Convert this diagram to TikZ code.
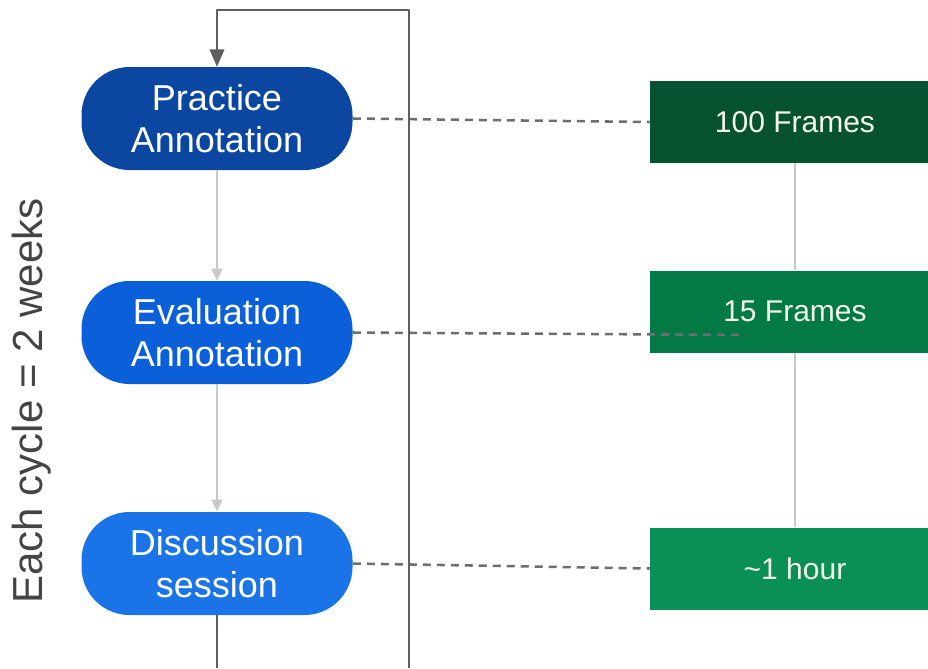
\documentclass[tikz,border=0pt]{standalone}
\usepackage{fontspec}
\setmainfont{Liberation Sans}
\usetikzlibrary{arrows.meta}
\definecolor{pillA}{HTML}{0B47A1}
\definecolor{pillB}{HTML}{0B60DA}
\definecolor{pillC}{HTML}{1A74E8}
\definecolor{grnA}{HTML}{08532F}
\definecolor{grnB}{HTML}{037A46}
\definecolor{grnC}{HTML}{0A8F56}
\definecolor{grntxt}{HTML}{F4F6EA}
\definecolor{loopgray}{HTML}{5F5F5F}
\definecolor{dashgray}{HTML}{6E6E6E}
\definecolor{lightgray}{HTML}{C9C9C9}
\definecolor{labelgray}{HTML}{444444}
\begin{document}
\begin{tikzpicture}[x=0.75pt,y=-0.75pt,
  pill/.style={rectangle, rounded corners=36pt, minimum width=203.25pt, minimum height=77.25pt,
    text=white, align=center, inner sep=0pt,
    font=\fontsize{27pt}{32pt}\selectfont},
  gbox/.style={rectangle, minimum width=217.5pt, minimum height=61.5pt, inner sep=0pt,
    text=grntxt, font=\fontsize{22.5pt}{27pt}\selectfont},
  flow/.style={draw=lightgray, line width=1.6pt, -{Triangle[length=9pt,width=8pt]}},
  loopline/.style={draw=loopgray, line width=1.5pt},
  dashline/.style={draw=dashgray, line width=1.9pt, dash pattern=on 6pt off 4.5pt},
  vline/.style={draw=lightgray, line width=1.6pt}]
\useasboundingbox (0,0) rectangle (928,668);
\clip (0,0) rectangle (928,668);

% pills
\node[pill, fill=pillA] (p1) at (217,118.5) {Practice\\Annotation};
\node[pill, fill=pillB] (p2) at (217,332.5) {Evaluation\\Annotation};
\node[pill, fill=pillC] (p3) at (217,563.5) {Discussion\\session};

% green boxes
\node[gbox, fill=grnA] (g1) at (795,122) {100 Frames};
\node[gbox, fill=grnB] (g2) at (795,311.5) {15 Frames};
\node[gbox, fill=grnC] (g3) at (795,568.5) {\char"007E{}1 hour};

% vertical connectors between green boxes
\draw[vline] (g1.south) -- (g2.north);
\draw[vline] (g2.south) -- (g3.north);

% flow arrows
\draw[flow] (p1.south) -- (p2.north);
\draw[flow] (p2.south) -- (p3.north);

% dashed links
\coordinate (d2) at (745,335);
\draw[dashline] (p1.east) -- (g1.west);
\draw[dashline] (p2.east) -- (d2);
\draw[dashline] (p3.east) -- (g3.west);

% feedback loop
\coordinate (b1) at (217,668);
\coordinate (b2) at (409,668);
\coordinate (t2) at (409,10);
\coordinate (t1) at (217,10);
\draw[loopline] (p3.south) -- (b1);
\draw[loopline, -{Triangle[length=13pt,width=11pt]}, line join=round] (b2) -- (t2) -- (t1) -- (p1.north);

% side label
\node[rotate=90, text=labelgray, font=\fontsize{31.5pt}{36pt}\selectfont, inner sep=0pt] (lbl) at (32,401) {Each cycle = 2 weeks};
\end{tikzpicture}
\end{document}
